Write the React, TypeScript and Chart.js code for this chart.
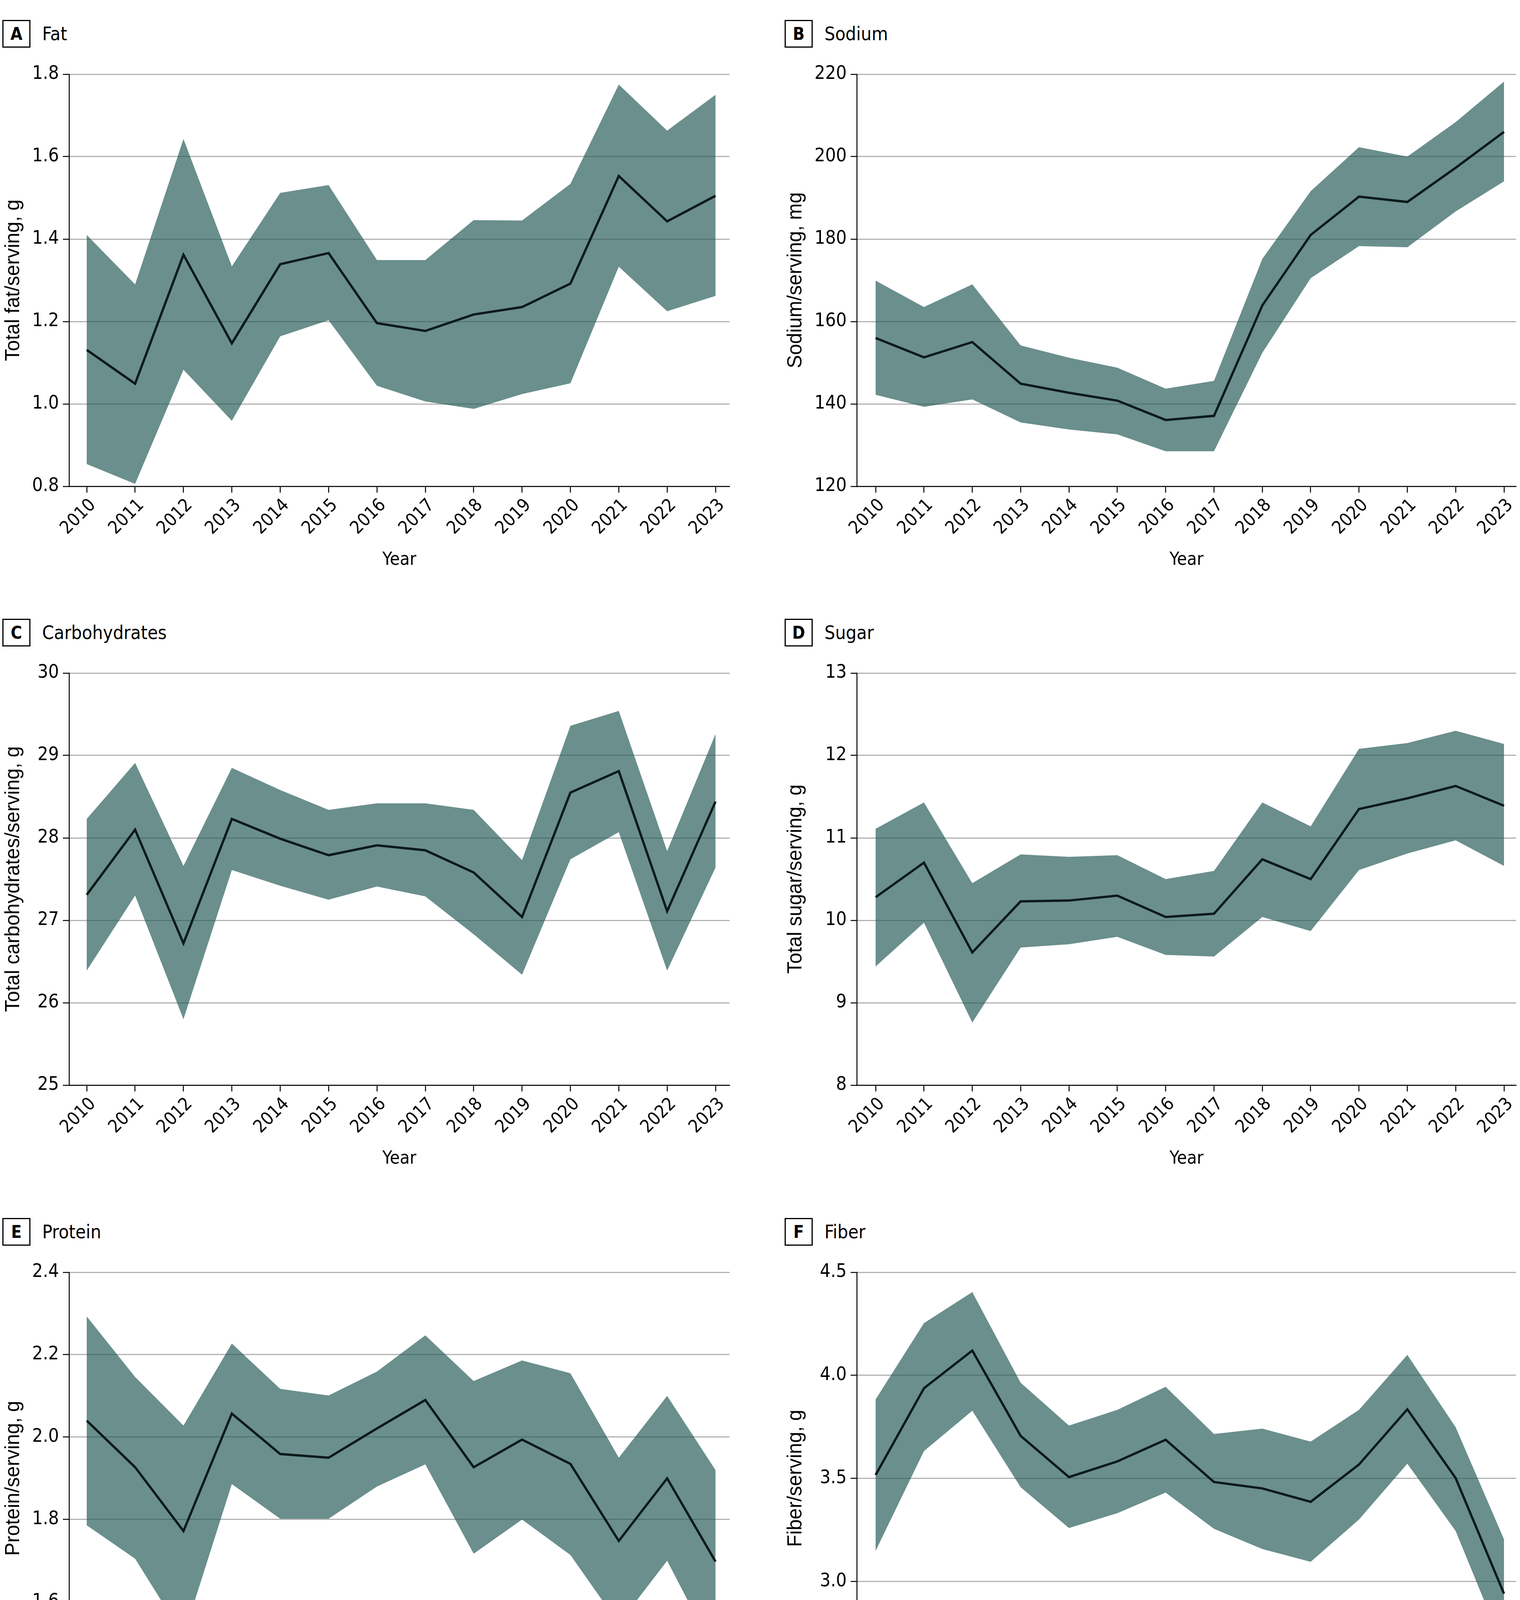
import React, { useEffect, useRef } from "react";
import { Chart, registerables } from "chart.js";

Chart.register(...registerables);

// ---------- data ----------
const years = [2010, 2011, 2012, 2013, 2014, 2015, 2016, 2017, 2018, 2019, 2020, 2021, 2022, 2023];

const fatMean = [1.131, 1.049, 1.362, 1.147, 1.339, 1.366, 1.196, 1.177, 1.217, 1.235, 1.292, 1.553, 1.443, 1.505];
const fatUpper = [1.41, 1.29, 1.643, 1.334, 1.512, 1.531, 1.349, 1.349, 1.446, 1.445, 1.534, 1.775, 1.663, 1.75];
const fatLower = [0.854, 0.806, 1.083, 0.959, 1.164, 1.203, 1.044, 1.006, 0.988, 1.024, 1.05, 1.333, 1.225, 1.262];
const fatTicks = [0.8, 1.0, 1.2, 1.4, 1.6, 1.8];

const sodiumMean = [156.0, 151.3, 155.0, 144.9, 142.7, 140.8, 136.1, 137.1, 163.9, 181.0, 190.3, 189.0, 197.3, 206.0];
const sodiumUpper = [169.9, 163.5, 169.0, 154.2, 151.2, 148.8, 143.7, 145.6, 175.2, 191.6, 202.3, 200.0, 208.4, 218.2];
const sodiumLower = [142.2, 139.3, 141.1, 135.5, 133.8, 132.6, 128.5, 128.5, 152.4, 170.5, 178.3, 178.0, 186.7, 194.0];
const sodiumTicks = [120, 140, 160, 180, 200, 220];

const carbMean = [27.31, 28.1, 26.72, 28.23, 27.99, 27.79, 27.91, 27.85, 27.58, 27.04, 28.55, 28.81, 27.11, 28.44];
const carbUpper = [28.23, 28.91, 27.66, 28.85, 28.58, 28.34, 28.42, 28.42, 28.34, 27.73, 29.36, 29.54, 27.84, 29.26];
const carbLower = [26.39, 27.3, 25.8, 27.61, 27.42, 27.25, 27.41, 27.29, 26.83, 26.34, 27.74, 28.07, 26.39, 27.64];
const carbTicks = [25, 26, 27, 28, 29, 30];

const sugarMean = [10.28, 10.7, 9.61, 10.23, 10.24, 10.3, 10.04, 10.08, 10.74, 10.5, 11.35, 11.48, 11.63, 11.39];
const sugarUpper = [11.11, 11.43, 10.45, 10.8, 10.77, 10.79, 10.5, 10.6, 11.43, 11.14, 12.08, 12.15, 12.3, 12.14];
const sugarLower = [9.44, 9.97, 8.76, 9.67, 9.71, 9.8, 9.58, 9.56, 10.04, 9.87, 10.61, 10.81, 10.97, 10.66];
const sugarTicks = [8, 9, 10, 11, 12, 13];

const proteinMean = [2.04, 1.927, 1.772, 2.057, 1.959, 1.95, 2.021, 2.09, 1.927, 1.994, 1.935, 1.748, 1.9, 1.698];
const proteinUpper = [2.293, 2.146, 2.028, 2.227, 2.117, 2.101, 2.159, 2.247, 2.136, 2.186, 2.155, 1.95, 2.1, 1.92];
const proteinLower = [1.786, 1.705, 1.517, 1.886, 1.802, 1.802, 1.88, 1.934, 1.717, 1.8, 1.714, 1.547, 1.7, 1.474];
const proteinTicks = [1.4, 1.6, 1.8, 2.0, 2.2, 2.4];

const fiberMean = [3.516, 3.937, 4.12, 3.706, 3.506, 3.582, 3.687, 3.482, 3.451, 3.386, 3.567, 3.835, 3.501, 2.94];
const fiberUpper = [3.883, 4.253, 4.404, 3.964, 3.756, 3.832, 3.944, 3.715, 3.741, 3.678, 3.832, 4.099, 3.748, 3.204];
const fiberLower = [3.148, 3.632, 3.828, 3.457, 3.259, 3.331, 3.431, 3.255, 3.157, 3.095, 3.3, 3.571, 3.244, 2.672];
const fiberTicks = [2.5, 3.0, 3.5, 4.0, 4.5];

// ---------- styles ----------
const COND = "'DejaVu Sans Condensed', 'DejaVu Sans', sans-serif";
const REG = "'Liberation Sans', Arial, sans-serif";
const BAND = "rgba(33,88,85,0.67)";
const LINE = "#0c1a1a";
const GRID = "#b3b3b3";

type PanelDef = {
  letter: string;
  title: string;
  yTitle: string;
  ticks: number[];
  decimals: number;
  mean: number[];
  upper: number[];
  lower: number[];
};

const panels: PanelDef[] = [
  { letter: "A", title: "Fat", yTitle: "Total fat/serving, g", ticks: fatTicks, decimals: 1, mean: fatMean, upper: fatUpper, lower: fatLower },
  { letter: "B", title: "Sodium", yTitle: "Sodium/serving, mg", ticks: sodiumTicks, decimals: 0, mean: sodiumMean, upper: sodiumUpper, lower: sodiumLower },
  { letter: "C", title: "Carbohydrates", yTitle: "Total carbohydrates/serving, g", ticks: carbTicks, decimals: 0, mean: carbMean, upper: carbUpper, lower: carbLower },
  { letter: "D", title: "Sugar", yTitle: "Total sugar/serving, g", ticks: sugarTicks, decimals: 0, mean: sugarMean, upper: sugarUpper, lower: sugarLower },
  { letter: "E", title: "Protein", yTitle: "Protein/serving, g", ticks: proteinTicks, decimals: 1, mean: proteinMean, upper: proteinUpper, lower: proteinLower },
  { letter: "F", title: "Fiber", yTitle: "Fiber/serving, g", ticks: fiberTicks, decimals: 1, mean: fiberMean, upper: fiberUpper, lower: fiberLower },
];

const COL_X = [0, 2003];
const ROW_Y = [0, 1533, 3067];
const CANVAS_TOP = 140;
const CANVAS_W = 1900;
const CANVAS_H = 1322;
const PLOT_TOP = 190;
const PLOT_BOTTOM = 1245;
const AXIS_LEFT = [177, 191];
const AXIS_RIGHT = [1868, 1879];
const X_MIN = [2009.636, 2009.612];
const X_MAX = [2023.29, 2023.25];

function Panel({ def, col, row }: { def: PanelDef; col: number; row: number }) {
  const ref = useRef<HTMLCanvasElement>(null);

  useEffect(() => {
    const canvas = ref.current;
    if (!canvas) return;
    const pts = (arr: number[]) => years.map((x, i) => ({ x, y: arr[i] }));
    const chart = new Chart(canvas, {
      type: "line",
      data: {
        datasets: [
          { data: pts(def.upper), order: 2, borderWidth: 0, borderColor: "transparent", backgroundColor: BAND, fill: "+1", pointRadius: 0, tension: 0 },
          { data: pts(def.lower), order: 1, borderWidth: 0, borderColor: "transparent", backgroundColor: BAND, fill: false, pointRadius: 0, tension: 0 },
          { data: pts(def.mean), order: 0, borderWidth: 6, borderColor: LINE, fill: false, pointRadius: 0, tension: 0, borderJoinStyle: "miter" },
        ],
      } as any,
      options: {
        responsive: false,
        animation: false,
        devicePixelRatio: 1,
        events: [],
        layout: { padding: { top: PLOT_TOP - CANVAS_TOP, right: CANVAS_W - AXIS_RIGHT[col], left: 0, bottom: 0 } },
        plugins: { legend: { display: false }, tooltip: { enabled: false } },
        scales: {
          x: {
            type: "linear",
            min: X_MIN[col],
            max: X_MAX[col],
            afterBuildTicks: (s: any) => {
              s.ticks = years.map((v) => ({ value: v }));
            },
            afterFit: (s: any) => {
              s.height = CANVAS_H - (PLOT_BOTTOM - CANVAS_TOP);
            },
            ticks: {
              autoSkip: false,
              maxRotation: 45,
              minRotation: 45,
              padding: 6,
              labelOffset: 16,
              color: "#000",
              font: { family: COND, size: 46 },
              callback: (v: any) => String(v),
            },
            grid: { drawOnChartArea: false, drawTicks: true, tickLength: 16, tickColor: "#000", tickWidth: 2.5, color: "#000" },
            border: { display: true, color: "#000", width: 2.5 },
            title: { display: true, text: "Year", color: "#000", font: { family: COND, size: 46 }, padding: 0 },
          },
          y: {
            type: "linear",
            min: def.ticks[0],
            max: def.ticks[def.ticks.length - 1],
            afterBuildTicks: (s: any) => {
              s.ticks = def.ticks.map((v) => ({ value: v }));
            },
            afterFit: (s: any) => {
              s.width = AXIS_LEFT[col];
            },
            ticks: {
              padding: 10,
              color: "#000",
              font: { family: COND, size: 48 },
              callback: (v: any) => Number(v).toFixed(def.decimals),
            },
            grid: { color: GRID, lineWidth: 3, drawTicks: true, tickLength: 16, tickColor: "#000", tickWidth: 2.5 },
            border: { display: true, color: "#000", width: 2.5 },
            title: { display: true, text: def.yTitle, color: "#000", font: { family: REG, size: 51 }, padding: { top: 4, bottom: 4 } },
          },
        },
      } as any,
    });
    return () => chart.destroy();
  }, [def, col]);

  return (
    <div style={{ position: "absolute", left: COL_X[col], top: ROW_Y[row], width: 1940, height: 1533 }}>
      <div style={{ position: "absolute", left: 6, top: 51, height: 71, display: "flex", alignItems: "center" }}>
        <div
          style={{
            width: 66,
            height: 65,
            border: "3px solid #000",
            display: "flex",
            alignItems: "center",
            justifyContent: "center",
            fontFamily: COND,
            fontWeight: 700,
            fontSize: 44,
            color: "#000",
          }}
        >
          {def.letter}
        </div>
        <div style={{ marginLeft: 30, fontFamily: COND, fontSize: 48, color: "#000", lineHeight: "71px" }}>{def.title}</div>
      </div>
      <canvas ref={ref} width={CANVAS_W} height={CANVAS_H} style={{ position: "absolute", left: 0, top: CANVAS_TOP, width: CANVAS_W, height: CANVAS_H }} />
    </div>
  );
}

export default function App() {
  return (
    <div style={{ position: "absolute", left: 0, top: 0, width: 3892, height: 4575, background: "#fff", overflow: "hidden" }}>
      {panels.map((p, i) => (
        <Panel key={p.letter} def={p} col={i % 2} row={Math.floor(i / 2)} />
      ))}
    </div>
  );
}
